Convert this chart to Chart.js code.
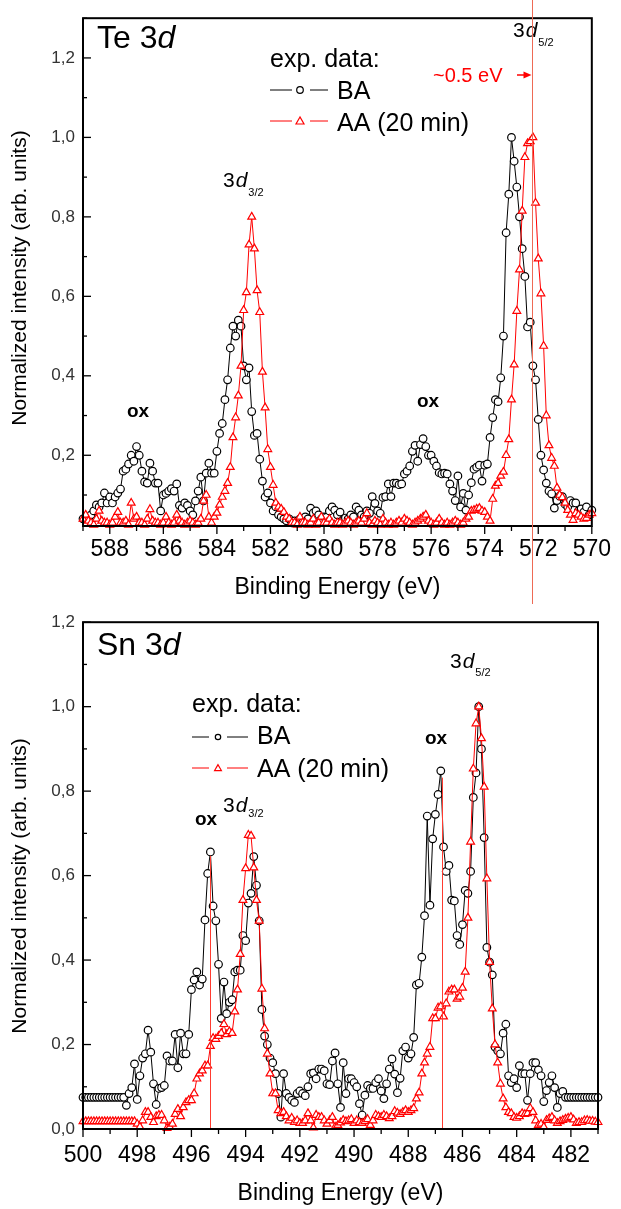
<!DOCTYPE html>
<html><head><meta charset="utf-8">
<script src="https://cdn.jsdelivr.net/npm/chart.js@4.4.0/dist/chart.umd.min.js"></script>
<style>
html,body{margin:0;padding:0;background:#fff;}
#wrap{position:relative;width:621px;height:1209px;overflow:hidden;}
canvas{position:absolute;left:0;}
#c1{top:0}
#c2{top:604px}
</style></head><body>
<div id="wrap"><canvas id="c1" width="621" height="604"></canvas><canvas id="c2" width="621" height="605"></canvas></div>
<script>
// ---------- Te 3d panel data ----------
const teEnergy = [
589.0,588.9,588.8,588.7,588.6,588.5,588.4,588.3,588.2,588.1,
588.0,587.9,587.8,587.7,587.6,587.5,587.4,587.3,587.2,587.1,
587.0,586.9,586.8,586.7,586.6,586.5,586.4,586.3,586.2,586.1,
586.0,585.9,585.8,585.7,585.6,585.5,585.4,585.3,585.2,585.1,
585.0,584.9,584.8,584.7,584.6,584.5,584.4,584.3,584.2,584.1,
584.0,583.9,583.8,583.7,583.6,583.5,583.4,583.3,583.2,583.1,
583.0,582.9,582.8,582.7,582.6,582.5,582.4,582.3,582.2,582.1,
582.0,581.9,581.8,581.7,581.6,581.5,581.4,581.3,581.2,581.1,
581.0,580.9,580.8,580.7,580.6,580.5,580.4,580.3,580.2,580.1,
580.0,579.9,579.8,579.7,579.6,579.5,579.4,579.3,579.2,579.1,
579.0,578.9,578.8,578.7,578.6,578.5,578.4,578.3,578.2,578.1,
578.0,577.9,577.8,577.7,577.6,577.5,577.4,577.3,577.2,577.1,
577.0,576.9,576.8,576.7,576.6,576.5,576.4,576.3,576.2,576.1,
576.0,575.9,575.8,575.7,575.6,575.5,575.4,575.3,575.2,575.1,
575.0,574.9,574.8,574.7,574.6,574.5,574.4,574.3,574.2,574.1,
574.0,573.9,573.8,573.7,573.6,573.5,573.4,573.3,573.2,573.1,
573.0,572.9,572.8,572.7,572.6,572.5,572.4,572.3,572.2,572.1,
572.0,571.9,571.8,571.7,571.6,571.5,571.4,571.3,571.2,571.1,
571.0,570.9,570.8,570.7,570.6,570.5,570.4,570.3,570.2,570.1,
570.0];
const teBA = [
0.04,0.045,0.04,0.05,0.06,0.075,0.07,0.08,0.105,0.08,
0.095,0.08,0.095,0.105,0.115,0.16,0.165,0.178,0.20,0.185,
0.222,0.20,0.16,0.133,0.13,0.18,0.16,0.13,0.13,0.06,
0.10,0.104,0.11,0.116,0.11,0.128,0.074,0.067,0.08,0.074,
0.06,0.05,0.085,0.11,0.145,0.085,0.155,0.18,0.155,0.155,
0.21,0.255,0.28,0.34,0.39,0.47,0.525,0.50,0.54,0.525,
0.425,0.39,0.42,0.31,0.25,0.255,0.19,0.135,0.095,0.105,
0.08,0.06,0.07,0.05,0.045,0.04,0.035,0.04,0.03,0.035,
0.03,0.04,0.03,0.045,0.04,0.067,0.055,0.06,0.05,0.04,
0.045,0.044,0.06,0.07,0.062,0.05,0.057,0.035,0.042,0.04,
0.05,0.045,0.07,0.062,0.05,0.045,0.06,0.054,0.096,0.079,
0.06,0.054,0.094,0.096,0.128,0.096,0.13,0.13,0.126,0.128,
0.153,0.16,0.173,0.21,0.225,0.185,0.227,0.242,0.222,0.20,
0.20,0.185,0.173,0.156,0.153,0.155,0.153,0.128,0.11,0.086,
0.148,0.07,0.104,0.062,0.10,0.131,0.165,0.17,0.175,0.135,
0.175,0.178,0.245,0.295,0.34,0.335,0.395,0.50,0.76,0.857,
1.00,0.94,0.875,0.80,0.72,0.65,0.523,0.535,0.425,0.39,
0.29,0.20,0.163,0.13,0.11,0.103,0.067,0.086,0.097,0.096,
0.077,0.07,0.086,0.08,0.08,0.06,0.065,0.057,0.07,0.05,
0.062];
const teAA = [
0.04,0.05,0.035,0.03,0.025,0.04,0.06,0.035,0.03,0.03,
0.025,0.03,0.045,0.057,0.03,0.03,0.035,0.025,0.08,0.04,
0.045,0.03,0.03,0.025,0.04,0.064,0.035,0.03,0.03,0.025,
0.03,0.045,0.03,0.025,0.03,0.05,0.035,0.03,0.025,0.03,
0.035,0.03,0.025,0.03,0.04,0.085,0.10,0.045,0.03,0.045,
0.055,0.075,0.095,0.11,0.13,0.17,0.245,0.295,0.35,0.425,
0.565,0.61,0.73,0.80,0.72,0.615,0.56,0.41,0.32,0.215,
0.17,0.125,0.08,0.07,0.065,0.057,0.045,0.04,0.03,0.03,
0.025,0.045,0.03,0.03,0.025,0.03,0.04,0.025,0.03,0.045,
0.03,0.03,0.04,0.03,0.025,0.03,0.03,0.025,0.03,0.035,
0.03,0.025,0.03,0.035,0.03,0.04,0.054,0.03,0.025,0.035,
0.03,0.025,0.04,0.03,0.025,0.03,0.025,0.03,0.035,0.03,
0.04,0.035,0.03,0.025,0.03,0.035,0.04,0.045,0.05,0.035,
0.03,0.025,0.03,0.04,0.03,0.025,0.03,0.025,0.03,0.035,
0.03,0.025,0.03,0.04,0.045,0.06,0.062,0.065,0.067,0.06,
0.057,0.045,0.035,0.09,0.123,0.13,0.148,0.158,0.20,0.24,
0.34,0.428,0.563,0.667,0.815,0.95,0.985,0.99,1.0,0.835,
0.695,0.607,0.475,0.30,0.225,0.193,0.173,0.118,0.10,0.094,
0.08,0.062,0.05,0.037,0.054,0.05,0.045,0.04,0.042,0.05,
0.054];
const teXTicks = [588,586,584,582,580,578,576,574,572,570];
const teYTicks = [0.2,0.4,0.6,0.8,1.0,1.2];
const teShiftLine = 572.25;

// ---------- Sn 3d panel data ----------
const snEnergy = [
500.0,499.9,499.8,499.7,499.6,499.5,499.4,499.3,499.2,499.1,
499.0,498.9,498.8,498.7,498.6,498.5,498.4,498.3,498.2,498.1,
498.0,497.9,497.8,497.7,497.6,497.5,497.4,497.3,497.2,497.1,
497.0,496.9,496.8,496.7,496.6,496.5,496.4,496.3,496.2,496.1,
496.0,495.9,495.8,495.7,495.6,495.5,495.4,495.3,495.2,495.1,
495.0,494.9,494.8,494.7,494.6,494.5,494.4,494.3,494.2,494.1,
494.0,493.9,493.8,493.7,493.6,493.5,493.4,493.3,493.2,493.1,
493.0,492.9,492.8,492.7,492.6,492.5,492.4,492.3,492.2,492.1,
492.0,491.9,491.8,491.7,491.6,491.5,491.4,491.3,491.2,491.1,
491.0,490.9,490.8,490.7,490.6,490.5,490.4,490.3,490.2,490.1,
490.0,489.9,489.8,489.7,489.6,489.5,489.4,489.3,489.2,489.1,
489.0,488.9,488.8,488.7,488.6,488.5,488.4,488.3,488.2,488.1,
488.0,487.9,487.8,487.7,487.6,487.5,487.4,487.3,487.2,487.1,
487.0,486.9,486.8,486.7,486.6,486.5,486.4,486.3,486.2,486.1,
486.0,485.9,485.8,485.7,485.6,485.5,485.4,485.3,485.2,485.1,
485.0,484.9,484.8,484.7,484.6,484.5,484.4,484.3,484.2,484.1,
484.0,483.9,483.8,483.7,483.6,483.5,483.4,483.3,483.2,483.1,
483.0,482.9,482.8,482.7,482.6,482.5,482.4,482.3,482.2,482.1,
482.0,481.9,481.8,481.7,481.6,481.5,481.4,481.3,481.2,481.1,
481.0];
const snBA = [
0.075,0.075,0.075,0.075,0.075,0.075,0.075,0.075,0.075,0.075,
0.075,0.075,0.075,0.075,0.075,0.075,0.056,0.084,0.098,0.154,
0.07,0.126,0.168,0.178,0.234,0.182,0.107,0.058,0.096,0.098,
0.103,0.173,0.161,0.161,0.224,0.145,0.227,0.178,0.178,0.224,
0.33,0.353,0.372,0.341,0.355,0.495,0.605,0.656,0.528,0.493,
0.39,0.262,0.348,0.273,0.30,0.306,0.372,0.376,0.376,0.458,
0.446,0.535,0.558,0.645,0.577,0.493,0.283,0.22,0.20,0.168,
0.157,0.131,0.084,0.028,0.131,0.084,0.075,0.068,0.063,0.084,
0.09,0.084,0.079,0.10,0.131,0.133,0.119,0.142,0.142,0.138,
0.107,0.105,0.161,0.18,0.107,0.051,0.157,0.084,0.119,0.119,
0.11,0.10,0.06,0.033,0.08,0.103,0.096,0.096,0.11,0.119,
0.09,0.072,0.107,0.142,0.166,0.13,0.086,0.12,0.185,0.194,
0.168,0.178,0.217,0.341,0.345,0.407,0.505,0.741,0.53,0.687,
0.745,0.792,0.848,0.668,0.61,0.624,0.542,0.54,0.458,0.437,
0.484,0.565,0.558,0.61,0.785,0.843,1.0,0.90,0.69,0.43,
0.395,0.365,0.194,0.185,0.178,0.227,0.248,0.126,0.11,0.119,
0.098,0.15,0.131,0.131,0.068,0.131,0.157,0.157,0.14,0.126,
0.065,0.091,0.11,0.126,0.098,0.051,0.084,0.089,0.075,0.075,
0.075,0.075,0.075,0.075,0.075,0.075,0.075,0.075,0.075,0.075,
0.075];
const snAA = [
0.018,0.018,0.018,0.018,0.018,0.018,0.018,0.018,0.018,0.018,
0.018,0.018,0.018,0.018,0.018,0.018,0.018,0.018,0.018,0.018,
0.012,0.005,0.02,0.04,0.04,0.028,0.016,0.03,0.033,0.033,
0.02,0.002,0.005,0.012,0.035,0.047,0.03,0.051,0.063,0.068,
0.068,0.084,0.119,0.131,0.138,0.15,0.15,0.196,0.215,0.213,
0.22,0.227,0.248,0.224,0.231,0.227,0.278,0.33,0.414,0.542,
0.617,0.696,0.694,0.619,0.542,0.493,0.332,0.238,0.178,0.131,
0.084,0.084,0.044,0.037,0.04,0.03,0.02,0.026,0.016,0.02,
0.014,0.014,0.02,0.037,0.02,0.003,0.033,0.028,0.028,0.02,
0.012,0.02,0.028,0.005,0.009,0.015,0.021,0.018,0.02,0.023,
0.014,0.02,0.016,0.014,0.018,0.023,0.009,0.02,0.033,0.03,
0.028,0.033,0.03,0.025,0.03,0.042,0.038,0.035,0.04,0.044,
0.04,0.044,0.049,0.072,0.086,0.131,0.157,0.178,0.194,0.262,
0.262,0.287,0.29,0.266,0.297,0.325,0.33,0.33,0.308,0.313,
0.334,0.372,0.50,0.68,0.853,0.96,1.0,0.925,0.81,0.593,
0.395,0.285,0.20,0.157,0.107,0.072,0.051,0.04,0.037,0.028,
0.026,0.03,0.037,0.035,0.037,0.049,0.04,0.02,0.009,0.012,
0.005,0.021,0.025,0.028,0.02,0.014,0.018,0.021,0.024,0.026,
0.028,0.022,0.014,0.016,0.016,0.02,0.021,0.019,0.019,0.017,
0.016];
const snXTicks = [500,498,496,494,492,490,488,486,484,482];
const snYTicks = [0.0,0.2,0.4,0.6,0.8,1.0,1.2];
const snMarkLines = [{e:495.31, top:0.647}, {e:486.75, top:0.832}];

// ---------- rendering ----------
const FONT = '"Liberation Sans", Arial, Helvetica, sans-serif';
Chart.defaults.font.family = FONT;

function datasets(E, ba, aa){
  return [
    {label:'BA', data:E.map((e,i)=>({x:e,y:ba[i]})), borderColor:'#000', borderWidth:1,
     pointStyle:'circle', pointRadius:3.8, pointBorderWidth:1.2, pointBorderColor:'#000',
     pointBackgroundColor:'#fff', order:2, tension:0, clip:6},
    {label:'AA (20 min)', data:E.map((e,i)=>({x:e,y:aa[i]})), borderColor:'#ff0000', borderWidth:1,
     pointStyle:'triangle', pointRadius:4.5, pointBorderWidth:1.2, pointBorderColor:'#ff0000',
     pointBackgroundColor:'#fff', order:1, tension:0, clip:6}
  ];
}

function line(ctx,x1,y1,x2,y2){ctx.beginPath();ctx.moveTo(x1,y1);ctx.lineTo(x2,y2);ctx.stroke();}
function circ(ctx,x,y,r,col){ctx.beginPath();ctx.arc(x,y,r,0,Math.PI*2);ctx.fillStyle='#fff';ctx.fill();ctx.strokeStyle=col;ctx.lineWidth=1.2;ctx.stroke();}
function tri(ctx,x,y,r,col){ctx.beginPath();ctx.moveTo(x,y-r);ctx.lineTo(x-r,y+r*0.75);ctx.lineTo(x+r,y+r*0.75);ctx.closePath();ctx.fillStyle='#fff';ctx.fill();ctx.strokeStyle=col;ctx.lineWidth=1.2;ctx.stroke();}

function frameAndTicks(chart){
  const {ctx, chartArea:a, scales:{x,y}} = chart;
  ctx.save();
  ctx.strokeStyle='#000'; ctx.lineWidth=1.3;
  for(let v=Math.ceil(x.min); v<=x.max; v++){
    const px=x.getPixelForValue(v); const L=(v%2===0)?8:5;
    line(ctx,px,a.bottom,px,a.bottom+L);
  }
  for(let k=Math.ceil(y.min*10-1e-6); k<=Math.floor(y.max*10+1e-6); k++){
    const py=y.getPixelForValue(k/10); const L=(k%2===0)?8:4;
    line(ctx,a.left,py,a.left+L,py);
  }
  ctx.lineWidth=2;
  ctx.strokeRect(a.left,a.top,a.right-a.left,a.bottom-a.top);
  ctx.restore();
}

function yTitle(ctx, cy){
  ctx.save();
  ctx.translate(20, cy); ctx.rotate(-Math.PI/2);
  ctx.font='21px '+FONT; ctx.fillStyle='#000'; ctx.textAlign='center'; ctx.textBaseline='middle';
  ctx.fillText('Normalized intensity (arb. units)',0,0);
  ctx.restore();
}

function panelTitle(ctx, el, x, base){
  ctx.font='32px '+FONT; ctx.fillStyle='#000'; ctx.textAlign='left'; ctx.textBaseline='alphabetic';
  const t=el+' 3'; ctx.fillText(t,x,base);
  const w=ctx.measureText(t).width;
  ctx.font='italic 32px '+FONT; ctx.fillText('d',x+w,base);
}

function orbital(ctx, sub, x, base, subBase){
  ctx.fillStyle='#000'; ctx.textAlign='left'; ctx.textBaseline='alphabetic';
  ctx.font='21px '+FONT; ctx.fillText('3',x,base);
  const w=ctx.measureText('3').width;
  ctx.font='italic 21px '+FONT; ctx.fillText('d',x+w+1,base);
  const w2=ctx.measureText('d').width;
  ctx.font='11px '+FONT; ctx.fillText(sub,x+w+w2+2,subBase);
}

function ox(ctx,x,base){
  ctx.fillStyle='#000'; ctx.textAlign='left'; ctx.textBaseline='alphabetic';
  ctx.font='bold 19px '+FONT; ctx.fillText('ox',x,base);
}

function legend(ctx, L){
  ctx.fillStyle='#000'; ctx.textAlign='left'; ctx.textBaseline='alphabetic';
  ctx.font='25px '+FONT;
  ctx.fillText('exp. data:', L.x, L.b0);
  ctx.strokeStyle='#000'; ctx.lineWidth=1;
  line(ctx,L.x,L.l1,L.x+L.s1,L.l1); line(ctx,L.x+L.s2,L.l1,L.x+L.s3,L.l1);
  circ(ctx,L.x+L.m,L.l1,L.r,'#000');
  ctx.fillStyle='#000'; ctx.font='25px '+FONT; ctx.fillText('BA', L.tx, L.b1);
  ctx.strokeStyle='#ff0000'; ctx.lineWidth=1;
  line(ctx,L.x,L.l2,L.x+L.s1,L.l2); line(ctx,L.x+L.s2,L.l2,L.x+L.s3,L.l2);
  tri(ctx,L.x+L.m,L.l2,L.r+0.7,'#ff0000');
  ctx.fillStyle='#000'; ctx.font='25px '+FONT; ctx.fillText('AA (20 min)', L.tx, L.b2);
}

function options(c){
  return {
    responsive:false, animation:false, devicePixelRatio:1,
    layout:{padding:{left:0,right:23,top:c.padTop,bottom:0}},
    plugins:{legend:{display:false}, tooltip:{enabled:false}},
    scales:{
      x:{type:'linear', reverse:true, min:c.xmin, max:c.xmax,
        afterFit(s){s.height=c.xh;},
        afterBuildTicks(s){s.ticks=c.xticks.map(v=>({value:v}));},
        grid:{display:false, drawTicks:false}, border:{display:false},
        ticks:{font:{size:23}, color:'#000', padding:c.xpad, autoSkip:false, maxRotation:0, callback:v=>String(v)},
        title:{display:true, text:'Binding Energy (eV)', font:{size:23}, color:'#000', padding:{top:0,bottom:c.tpad}}},
      y:{type:'linear', min:c.ymin, max:c.ymax,
        afterFit(s){s.width=83;},
        afterBuildTicks(s){s.ticks=c.yticks.map(v=>({value:v}));},
        grid:{display:false, drawTicks:false}, border:{display:false},
        ticks:{font:{size:17}, color:'#333', padding:8, callback:v=>Number(v).toFixed(1).replace('.',',')}}
    }
  };
}

// Top panel: Te 3d
new Chart(document.getElementById('c1'), {
  type:'line',
  data:{datasets:datasets(teEnergy, teBA, teAA)},
  options:options({padTop:9, xmin:570, xmax:589, ymin:0.022, ymax:1.30, xh:78, xpad:10, tpad:3, xticks:teXTicks, yticks:teYTicks}),
  plugins:[{id:'teOverlay', afterDraw(chart){
    const ctx=chart.ctx; const x=chart.scales.x;
    frameAndTicks(chart);
    yTitle(ctx, 278);
    panelTitle(ctx,'Te',97,48);
    legend(ctx,{x:270,b0:67,l1:90,b1:99,l2:121,b2:131,s1:22,s2:40,s3:58,m:30,r:3.3,tx:337});
    ox(ctx,127,417); ox(ctx,417,407);
    orbital(ctx,'3/2',223,187,196);
    orbital(ctx,'5/2',513,37,46);
    const px=Math.round(x.getPixelForValue(teShiftLine))+0.5;
    ctx.save(); ctx.strokeStyle='#ee6a55'; ctx.lineWidth=1;
    line(ctx,px,0,px,chart.height);
    ctx.fillStyle='#ff0000'; ctx.font='20px '+FONT; ctx.textAlign='left'; ctx.textBaseline='alphabetic';
    ctx.fillText('~0.5 eV',433,82);
    ctx.strokeStyle='#ff0000'; ctx.lineWidth=1.5; line(ctx,517,75,529,75);
    ctx.beginPath(); ctx.moveTo(px-1,75); ctx.lineTo(px-9,71.5); ctx.lineTo(px-9,78.5); ctx.closePath(); ctx.fill();
    ctx.restore();
  }}]
});

// Bottom panel: Sn 3d
new Chart(document.getElementById('c2'), {
  type:'line',
  data:{datasets:datasets(snEnergy, snBA, snAA)},
  options:options({padTop:12, xmin:481, xmax:500, ymin:0, ymax:1.2, xh:80, xpad:13, tpad:2, xticks:snXTicks, yticks:snYTicks}),
  plugins:[{id:'snOverlay', afterDraw(chart){
    const ctx=chart.ctx; const x=chart.scales.x, y=chart.scales.y;
    ctx.save(); ctx.strokeStyle='#ff3b30'; ctx.lineWidth=1;
    snMarkLines.forEach(m=>{const px=Math.round(x.getPixelForValue(m.e))+0.5; line(ctx,px,y.getPixelForValue(m.top),px,y.getPixelForValue(y.min));});
    ctx.restore();
    frameAndTicks(chart);
    yTitle(ctx, 282);
    panelTitle(ctx,'Sn',97,51);
    legend(ctx,{x:192,b0:108,l1:133,b1:140,l2:164,b2:173,s1:17,s2:35,s3:56,m:26,r:2.7,tx:257});
    ox(ctx,195,221); ox(ctx,425,140);
    orbital(ctx,'3/2',223,208,213);
    orbital(ctx,'5/2',450,64,72);
  }}]
});
</script></body></html>
